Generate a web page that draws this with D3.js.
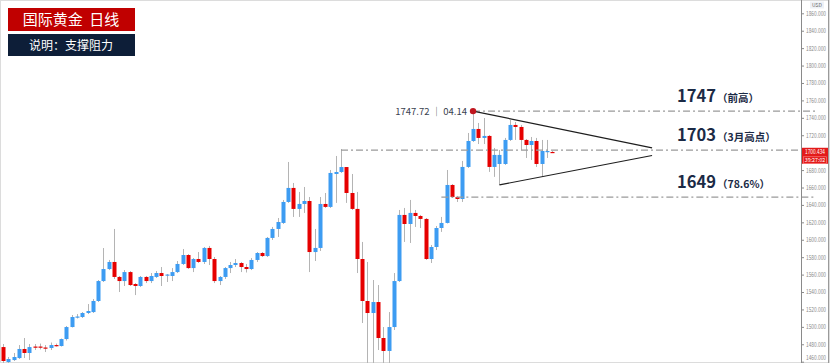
<!DOCTYPE html>
<html>
<head>
<meta charset="utf-8">
<script src="https://cdn.jsdelivr.net/npm/d3@7/dist/d3.min.js"></script>
<style>
  html, body { margin: 0; padding: 0; background: #fff; }
  #chart { width: 830px; height: 363px; }
  text { font-family: "Noto Sans CJK SC", "Noto Sans", sans-serif; }
</style>
</head>
<body>
<div id="chart"></div>
<script>
// 日线 K线数据
var opens = [1476.8,1459.6,1461.9,1464.2,1474.6,1470.0,1477.4,1477.4,1476.3,1475.7,
  1479.1,1478.0,1486.0,1499.8,1510.7,1511.3,1515.9,1517.0,1529.7,1552.6,
  1566.4,1574.5,1557.3,1552.6,1562.9,1549.2,1546.9,1557.3,1552.6,1557.3,
  1561.8,1558.9,1558.4,1562.9,1572.2,1582.5,1567.5,1577.9,1574.5,1590.6,
  1577.9,1552.6,1557.3,1567.5,1571.0,1573.3,1568.7,1566.4,1576.8,1584.8,
  1581.3,1602.1,1612.4,1619.3,1643.4,1659.5,1635.4,1641.1,1644.5,1585.9,
  1590.6,1641.1,1637.7,1675.5,1677.8,1683.5,1653.7,1635.4,1577.9,1529.7,
  1515.9,1528.5,1487.2,1472.3,1499.8,1552.6,1628.5,1618.1,1630.8,1627.3,
  1623.9,1577.9,1591.7,1613.5,1619.3,1662.9,1649.1,1646.8,1683.6,1713.4,
  1727.2,1716.9,1719.2,1683.6,1687.0,1687.0,1714.6,1731.8,1729.5,1714.6,
  1708.8,1713.4,1687.0,1700.8,1700.8];
var closes = [1460.8,1463.1,1465.4,1474.6,1470.0,1476.8,1476.3,1476.3,1475.1,1479.1,
  1478.0,1486.0,1499.8,1511.3,1511.9,1515.9,1518.2,1529.7,1552.6,1566.4,
  1574.5,1557.3,1552.6,1562.9,1548.0,1546.9,1557.3,1552.6,1558.4,1561.8,
  1558.4,1560.1,1562.9,1572.2,1582.5,1567.5,1577.9,1574.5,1590.6,1577.9,
  1552.6,1557.3,1567.5,1571.0,1573.3,1568.7,1566.4,1576.8,1584.8,1581.3,
  1602.1,1612.4,1620.4,1643.4,1659.5,1635.4,1641.1,1644.5,1585.9,1590.6,
  1641.1,1637.7,1676.7,1677.8,1683.5,1653.7,1635.4,1577.9,1529.7,1515.9,
  1528.5,1487.2,1472.3,1499.8,1552.6,1628.5,1618.1,1630.8,1627.3,1623.9,
  1577.9,1591.7,1613.5,1619.3,1662.9,1649.1,1646.8,1683.6,1713.4,1727.2,
  1716.9,1719.2,1683.6,1697.4,1697.4,1714.6,1731.8,1729.5,1714.6,1708.8,
  1713.4,1687.0,1701.9,1701.9,1700.434];
var highs = [1480.3,1465.4,1470.0,1479.1,1487.2,1480.3,1480.3,1480.8,1479.1,1482.0,
  1480.8,1486.6,1501.0,1513.6,1514.7,1517.0,1526.2,1532.0,1553.8,1590.5,
  1576.8,1612.4,1558.4,1565.2,1564.1,1550.3,1558.4,1558.4,1561.8,1564.1,
  1568.7,1560.7,1567.5,1575.6,1589.4,1583.6,1579.0,1585.9,1591.7,1592.9,
  1580.2,1558.4,1568.7,1574.5,1577.9,1574.5,1572.2,1579.0,1585.9,1585.9,
  1603.2,1614.7,1625.0,1645.7,1689.3,1665.2,1654.9,1660.6,1649.1,1612.4,
  1649.1,1653.7,1680.1,1696.2,1704.2,1683.5,1675.5,1654.9,1597.5,1574.5,
  1553.8,1548.0,1499.8,1517.0,1561.8,1634.2,1636.5,1645.7,1634.2,1628.5,
  1625.0,1594.0,1615.8,1626.2,1680.1,1664.0,1650.3,1690.5,1722.6,1747.72,
  1734.1,1739.8,1720.3,1705.4,1703.1,1716.9,1737.5,1735.2,1731.8,1715.7,
  1718.0,1716.9,1714.6,1714.6,1701.9];
var lows = [1456.2,1457.3,1460.8,1463.1,1464.2,1461.9,1473.4,1474.0,1471.1,1473.4,
  1477.4,1477.4,1484.3,1499.3,1509.6,1510.2,1514.7,1515.9,1528.5,1551.5,
  1565.2,1555.0,1540.0,1546.9,1546.9,1536.5,1545.7,1550.3,1550.3,1556.2,
  1546.9,1551.5,1552.6,1561.8,1571.0,1566.4,1562.9,1573.3,1572.2,1571.0,
  1550.3,1548.0,1555.0,1561.8,1568.7,1562.9,1562.4,1565.2,1574.5,1580.2,
  1580.2,1599.8,1603.2,1618.1,1642.3,1626.2,1626.2,1630.8,1562.9,1575.6,
  1587.1,1636.5,1636.5,1642.3,1676.7,1642.3,1634.2,1561.8,1504.4,1450.4,
  1450.4,1473.4,1452.7,1455.0,1496.4,1551.5,1597.5,1596.3,1614.7,1613.5,
  1576.8,1573.3,1588.2,1609.0,1618.7,1648.0,1643.4,1643.4,1682.4,1712.3,
  1709.9,1709.9,1677.9,1672.2,1663.0,1685.9,1713.4,1714.6,1703.1,1693.9,
  1691.6,1683.6,1672.2,1693.9,1699.7];

// 坐标轴刻度
var yTicks = [1460,1480,1500,1520,1540,1560,1580,1600,1620,1640,1660,1680,1700,
  1720,1740,1760,1780,1800,1820,1840,1860];

// 支撑阻力位
var levelValues = [1747.72, 1703, 1649];
var levelStart = [89, 64, 83];          // 虚线起点所在K线
var levelNames = ['1747', '1703', '1649'];
var levelNotes = ['（前高）', '（3月高点）', '（78.6%）'];

// 三角形收敛线 [起点K线, 起点价, 终点K线, 终点价]
var triUpper = [89, 1747.72, 122.9, 1705.4];
var triLower = [94, 1663.0, 122.9, 1696.7];

var lastPrice = '1700.434';
var countdown = '39:27:02';

var W = 830, H = 363, axisX = 801;
var svg = d3.select('#chart').append('svg').attr('width', W).attr('height', H);

var x = d3.scaleLinear().domain([-0.57, 151.1]).range([0, axisX]);
var y = d3.scaleLinear().domain([1460, 1860]).range([361.7, 13.3]);

// 边框
svg.append('rect').attr('x', 0.5).attr('y', 0.5).attr('width', W - 1).attr('height', H - 1)
  .attr('fill', 'none').attr('stroke', '#dcdcdc');

svg.append('clipPath').attr('id', 'plotClip').append('rect')
  .attr('x', 0).attr('y', 0).attr('width', axisX).attr('height', H);

var plot = svg.append('g').attr('clip-path', 'url(#plotClip)');

// 水平支撑阻力虚线
var lv = svg.append('g');
levelValues.forEach(function (v, k) {
  lv.append('line')
    .attr('x1', x(levelStart[k])).attr('x2', 816)
    .attr('y1', y(v)).attr('y2', y(v))
    .attr('stroke', '#9a9a9a').attr('stroke-width', 1.2)
    .attr('stroke-dasharray', '7,3,2,3');
});

// K线
var idx = d3.range(opens.length);
plot.selectAll('.wick').data(idx).enter().append('line')
  .attr('class', 'wick')
  .attr('x1', function (i) { return Math.round(x(i)) + 0.5; })
  .attr('x2', function (i) { return Math.round(x(i)) + 0.5; })
  .attr('y1', function (i) { return y(highs[i]); })
  .attr('y2', function (i) { return y(lows[i]); })
  .attr('stroke', '#b4b4b4').attr('stroke-width', 1);

plot.selectAll('.body').data(idx).enter().append('rect')
  .attr('class', 'body')
  .attr('x', function (i) { return Math.round(x(i)) - 1.5; })
  .attr('width', 4)
  .attr('y', function (i) { return y(Math.max(opens[i], closes[i])); })
  .attr('height', function (i) { return Math.max(1.2, Math.abs(y(opens[i]) - y(closes[i]))); })
  .attr('fill', function (i) { return closes[i] >= opens[i] ? '#3d9cf2' : '#e60000'; });

// 三角形
[triUpper, triLower].forEach(function (t) {
  svg.append('line')
    .attr('x1', x(t[0])).attr('y1', y(t[1]))
    .attr('x2', x(t[2])).attr('y2', y(t[3]))
    .attr('stroke', '#1e1e1e').attr('stroke-width', 1.2);
});

// 高点标记
svg.append('circle').attr('cx', x(triUpper[0])).attr('cy', y(triUpper[1])).attr('r', 3.2)
  .attr('fill', '#c0161e');
svg.append('text').attr('x', x(triUpper[0]) - 6).attr('y', y(triUpper[1]) + 3.5)
  .attr('text-anchor', 'end').attr('font-size', 9.5).attr('fill', '#3a4250')
  .text('1747.72 │ 04.14');

// 价位文字
var tg = svg.append('g');
levelValues.forEach(function (v, k) {
  var t = tg.append('text').attr('x', 677).attr('y', y(v) - 9)
    .attr('fill', '#1b2a45').attr('font-weight', 'bold');
  t.append('tspan').attr('font-size', 16.5).text(levelNames[k]);
  t.append('tspan').attr('font-size', 10.5).attr('dx', 1).text(levelNotes[k]);
});

// 右侧价格轴 (最新价标签遮住的刻度不显示文字)
var ly = y(+lastPrice);
var axisG = svg.append('g').attr('transform', 'translate(' + axisX + ',0)')
  .call(d3.axisRight(y).tickValues(yTicks).tickFormat(d3.format('.3f')).tickSize(3).tickPadding(2));
axisG.select('.domain').attr('stroke', '#8a8a8a').attr('d', 'M0.5,0V' + H);
axisG.selectAll('.tick line').attr('stroke', '#8a8a8a');
axisG.selectAll('.tick text').attr('fill', '#8a8a8a').attr('font-size', 6)
  .attr('font-family', 'Roboto, "Noto Sans", sans-serif')
  .attr('textLength', 20).attr('lengthAdjust', 'spacingAndGlyphs');
axisG.selectAll('.tick').filter(function (d) { return Math.abs(y(d) - ly) < 8; })
  .select('text').remove();
axisG.selectAll('.tick').filter(function (d) { return y(d) > H - 4; })
  .select('text').attr('dy', '-0.3em');

svg.append('line').attr('x1', 828.5).attr('x2', 828.5).attr('y1', 0).attr('y2', H)
  .attr('stroke', '#9a9a9a');

// USD
svg.append('rect').attr('x', 810).attr('y', 1.5).attr('width', 14).attr('height', 7)
  .attr('fill', '#eef1f6');
svg.append('text').attr('x', 817).attr('y', 7).attr('text-anchor', 'middle')
  .attr('font-size', 5).attr('fill', '#6a6a6a').text('USD');

// 最新价标签
svg.append('rect').attr('x', 802).attr('y', ly - 4.5).attr('width', 26).attr('height', 16)
  .attr('fill', '#e31a1a');
svg.append('rect').attr('x', 803.5).attr('y', ly + 4.5).attr('width', 23).attr('height', 6.5)
  .attr('fill', 'none').attr('stroke', '#ff8a8a').attr('stroke-width', 0.6);
svg.append('text').attr('x', 815).attr('y', ly + 1.8).attr('text-anchor', 'middle')
  .attr('font-size', 5.8).attr('fill', '#fff')
  .attr('textLength', 20).attr('lengthAdjust', 'spacingAndGlyphs').text(lastPrice);
svg.append('text').attr('x', 815).attr('y', ly + 9.6).attr('text-anchor', 'middle')
  .attr('font-size', 5.3).attr('fill', '#fff').text(countdown);

// 标题块
svg.append('rect').attr('x', 8).attr('y', 8).attr('width', 127).attr('height', 23)
  .attr('fill', '#c00000');
svg.append('text').attr('x', 71).attr('y', 25).attr('text-anchor', 'middle')
  .attr('font-size', 15).attr('fill', '#fff')
  .text('国际黄金\u00a0\u00a0日线');
svg.append('rect').attr('x', 8).attr('y', 34).attr('width', 127).attr('height', 22)
  .attr('fill', '#0d1e38');
svg.append('text').attr('x', 71).attr('y', 50).attr('text-anchor', 'middle')
  .attr('font-size', 12).attr('fill', '#fff').text('说明：支撑阻力');
</script>
</body>
</html>
